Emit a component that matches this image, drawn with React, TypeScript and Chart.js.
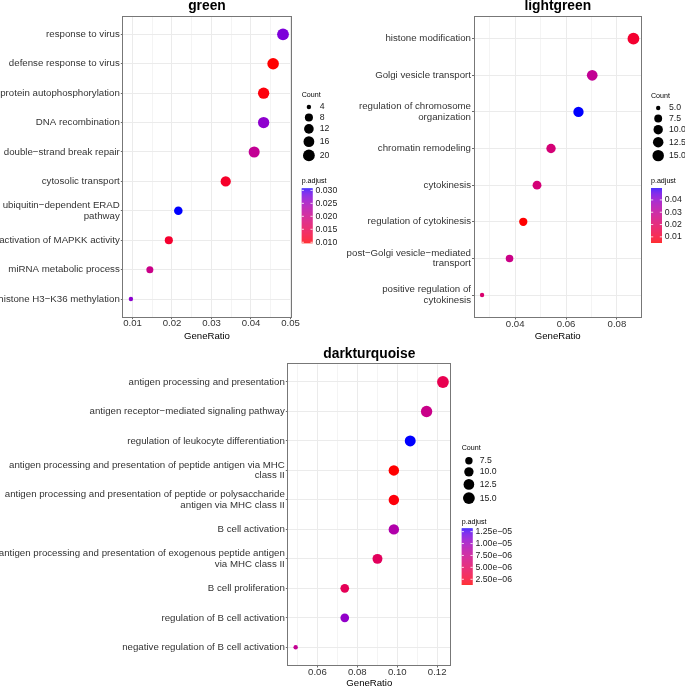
import React, { useEffect, useRef } from "react";
import { Chart, registerables } from "chart.js";

Chart.register(...registerables);

const FONT = "'Liberation Sans', Arial, Helvetica, sans-serif";

// ---------------- green ----------------
const greenTerms = [
  "response to virus",
  "defense response to virus",
  "protein autophosphorylation",
  "DNA recombination",
  "double\u2212strand break repair",
  "cytosolic transport",
  "ubiquitin\u2212dependent ERAD\npathway",
  "activation of MAPKK activity",
  "miRNA metabolic process",
  "histone H3\u2212K36 methylation",
];
const greenRatio = [0.0481, 0.0456, 0.0432, 0.0432, 0.0408, 0.0336, 0.0216, 0.0192, 0.0144, 0.0096];
const greenCount = [20, 19, 18, 18, 17, 14, 9, 8, 6, 4];
const greenPadj = [0.0276, 0.0096, 0.01, 0.0265, 0.0213, 0.0117, 0.0308, 0.0121, 0.0202, 0.0266];
const greenXMajor = [0.01, 0.02, 0.03, 0.04, 0.05];
const greenXMinor = [0.015, 0.025, 0.035, 0.045];
const greenCountBreaks = [4, 8, 12, 16, 20];
const greenCountLabels = ["4", "8", "12", "16", "20"];
const greenPadjBreaks = [0.01, 0.015, 0.02, 0.025, 0.03];
const greenPadjLabels = ["0.010", "0.015", "0.020", "0.025", "0.030"];

// ---------------- lightgreen ----------------
const lgTerms = [
  "histone modification",
  "Golgi vesicle transport",
  "regulation of chromosome\norganization",
  "chromatin remodeling",
  "cytokinesis",
  "regulation of cytokinesis",
  "post\u2212Golgi vesicle\u2212mediated\ntransport",
  "positive regulation of\ncytokinesis",
];
const lgRatio = [0.0865, 0.0703, 0.0649, 0.0541, 0.0486, 0.0432, 0.0378, 0.027];
const lgCount = [16, 13, 12, 10, 9, 8, 7, 5];
const lgPadj = [0.0104, 0.0296, 0.0497, 0.0238, 0.024, 0.005, 0.027, 0.022];
const lgXMajor = [0.04, 0.06, 0.08];
const lgXMinor = [0.03, 0.05, 0.07];
const lgCountBreaks = [5, 7.5, 10, 12.5, 15];
const lgCountLabels = ["5.0", "7.5", "10.0", "12.5", "15.0"];
const lgPadjBreaks = [0.01, 0.02, 0.03, 0.04];
const lgPadjLabels = ["0.01", "0.02", "0.03", "0.04"];

// ---------------- darkturquoise ----------------
const dtTerms = [
  "antigen processing and presentation",
  "antigen receptor\u2212mediated signaling pathway",
  "regulation of leukocyte differentiation",
  "antigen processing and presentation of peptide antigen via MHC\nclass II",
  "antigen processing and presentation of peptide or polysaccharide\nantigen via MHC class II",
  "B cell activation",
  "antigen processing and presentation of exogenous peptide antigen\nvia MHC class II",
  "B cell proliferation",
  "regulation of B cell activation",
  "negative regulation of B cell activation",
];
const dtRatio = [0.1229, 0.1147, 0.1065, 0.0983, 0.0983, 0.0983, 0.0901, 0.0737, 0.0737, 0.0491];
const dtCount = [15, 14, 13, 12, 12, 12, 11, 9, 9, 6];
const dtPadj = [4.3e-6, 7.3e-6, 1.32e-5, 1.3e-6, 1.5e-6, 9.0e-6, 4.9e-6, 4.6e-6, 1.06e-5, 7.8e-6];
const dtXMajor = [0.06, 0.08, 0.1, 0.12];
const dtXMinor = [0.05, 0.07, 0.09, 0.11];
const dtCountBreaks = [7.5, 10, 12.5, 15];
const dtCountLabels = ["7.5", "10.0", "12.5", "15.0"];
const dtPadjBreaks = [2.5e-6, 5e-6, 7.5e-6, 1e-5, 1.25e-5];
const dtPadjLabels = ["2.50e\u221206", "5.00e\u221206", "7.50e\u221206", "1.00e\u221205", "1.25e\u221205"];

// ---------------- colour helpers (Lab interpolation, red -> blue) ----------------
function srgbToLin(c: number) {
  c /= 255;
  return c <= 0.04045 ? c / 12.92 : Math.pow((c + 0.055) / 1.055, 2.4);
}
function linToSrgb(c: number) {
  const v = c <= 0.0031308 ? 12.92 * c : 1.055 * Math.pow(c, 1 / 2.4) - 0.055;
  return Math.round(Math.max(0, Math.min(1, v)) * 255);
}
const XN = 0.95047, YN = 1, ZN = 1.08883;
function labF(t: number) {
  return t > 0.008856 ? Math.cbrt(t) : 7.787 * t + 16 / 116;
}
function labFinv(t: number) {
  const t3 = t * t * t;
  return t3 > 0.008856 ? t3 : (t - 16 / 116) / 7.787;
}
function toLab(rgb: number[]) {
  const r = srgbToLin(rgb[0]), g = srgbToLin(rgb[1]), b = srgbToLin(rgb[2]);
  const X = (0.4124 * r + 0.3576 * g + 0.1805 * b) / XN;
  const Y = (0.2126 * r + 0.7152 * g + 0.0722 * b) / YN;
  const Z = (0.0193 * r + 0.1192 * g + 0.9505 * b) / ZN;
  const fx = labF(X), fy = labF(Y), fz = labF(Z);
  return [116 * fy - 16, 500 * (fx - fy), 200 * (fy - fz)];
}
function fromLab(lab: number[]) {
  const fy = (lab[0] + 16) / 116;
  const fx = fy + lab[1] / 500;
  const fz = fy - lab[2] / 200;
  const X = labFinv(fx) * XN, Y = labFinv(fy) * YN, Z = labFinv(fz) * ZN;
  const r = 3.2406 * X - 1.5372 * Y - 0.4986 * Z;
  const g = -0.9689 * X + 1.8758 * Y + 0.0415 * Z;
  const b = 0.0557 * X - 0.204 * Y + 1.057 * Z;
  return `rgb(${linToSrgb(r)},${linToSrgb(g)},${linToSrgb(b)})`;
}
const LAB_LOW = toLab([255, 0, 0]);
const LAB_HIGH = toLab([0, 0, 255]);
function gradient(t: number) {
  const u = Math.max(0, Math.min(1, t));
  return fromLab([0, 1, 2].map((k) => LAB_LOW[k] + (LAB_HIGH[k] - LAB_LOW[k]) * u));
}

const R_MIN = 2.2;
const R_MAX = 5.9;

type Spec = {
  title: string;
  terms: string[];
  ratio: number[];
  count: number[];
  padj: number[];
  xMajor: number[];
  xMinor: number[];
  countBreaks: number[];
  countLabels: string[];
  padjBreaks: number[];
  padjLabels: string[];
  box: { left: number; top: number; width: number; height: number };
  plot: { left: number; right: number; top: number; bottom: number };
  titleY: number;
  xTitleFromBottom: number;
  legend: { left: number; countTitleY: number; firstKeyY: number; padjTitleY: number; barTop: number; barBottom: number };
};

const panels: Spec[] = [
  {
    title: "green",
    terms: greenTerms, ratio: greenRatio, count: greenCount, padj: greenPadj,
    xMajor: greenXMajor, xMinor: greenXMinor,
    countBreaks: greenCountBreaks, countLabels: greenCountLabels,
    padjBreaks: greenPadjBreaks, padjLabels: greenPadjLabels,
    box: { left: 0, top: 0, width: 340, height: 345 },
    plot: { left: 123.3, right: 290.6, top: 16.7, bottom: 316.7 },
    titleY: 10.3,
    xTitleFromBottom: 9,
    legend: { left: 301.7, countTitleY: 95, firstKeyY: 107, padjTitleY: 181, barTop: 188.3, barBottom: 243.3 },
  },
  {
    title: "lightgreen",
    terms: lgTerms, ratio: lgRatio, count: lgCount, padj: lgPadj,
    xMajor: lgXMajor, xMinor: lgXMinor,
    countBreaks: lgCountBreaks, countLabels: lgCountLabels,
    padjBreaks: lgPadjBreaks, padjLabels: lgPadjLabels,
    box: { left: 340, top: 0, width: 345, height: 345 },
    plot: { left: 134.5, right: 301, top: 16.7, bottom: 317 },
    titleY: 10.3,
    xTitleFromBottom: 9,
    legend: { left: 311, countTitleY: 96, firstKeyY: 108, padjTitleY: 181, barTop: 188, barBottom: 243 },
  },
  {
    title: "darkturquoise",
    terms: dtTerms, ratio: dtRatio, count: dtCount, padj: dtPadj,
    xMajor: dtXMajor, xMinor: dtXMinor,
    countBreaks: dtCountBreaks, countLabels: dtCountLabels,
    padjBreaks: dtPadjBreaks, padjLabels: dtPadjLabels,
    box: { left: 0, top: 345, width: 685, height: 350 },
    plot: { left: 288.3, right: 450.3, top: 19.3, bottom: 320 },
    titleY: 13,
    xTitleFromBottom: 11.7,
    legend: { left: 461.7, countTitleY: 103, firstKeyY: 115.7, padjTitleY: 176.7, barTop: 183.3, barBottom: 240 },
  },
];

function Panel({ spec }: { spec: Spec }) {
  const ref = useRef<HTMLCanvasElement | null>(null);

  useEffect(() => {
    const canvas = ref.current;
    if (!canvas) return;
    const n = spec.terms.length;
    const cmin = Math.min(...spec.count), cmax = Math.max(...spec.count);
    const pmin = Math.min(...spec.padj), pmax = Math.max(...spec.padj);
    const rmin = Math.min(...spec.ratio), rmax = Math.max(...spec.ratio);
    const xr = rmax - rmin;
    const xMin = rmin - 0.05 * xr, xMax = rmax + 0.05 * xr;
    const tol = 0.003 * xr;
    const radius = (c: number) => R_MIN + (R_MAX - R_MIN) * Math.sqrt(Math.max(0, (c - cmin) / (cmax - cmin)));
    const colorOf = (p: number) => gradient((p - pmin) / (pmax - pmin));
    const isMajor = (v: number) => spec.xMajor.some((m) => Math.abs(m - v) < 1e-9);
    const xTicks = [...spec.xMajor, ...spec.xMinor]
      .filter((v) => v >= xMin - tol && v <= xMax + tol)
      .sort((a, b) => a - b);

    const points = spec.ratio.map((x, i) => ({ x, y: n - i }));
    const radii = spec.count.map(radius);
    const colors = spec.padj.map(colorOf);

    const decor = {
      id: "decor" + spec.title,
      afterDatasetsDraw(chart: any) {
        const { ctx, chartArea } = chart;
        ctx.save();
        ctx.strokeStyle = "#777777";
        ctx.lineWidth = 1;
        const l = Math.round(chartArea.left) - 0.5;
        const t = Math.round(chartArea.top) - 0.5;
        const r = Math.round(chartArea.right) + 0.5;
        const b = Math.round(chartArea.bottom) + 0.5;
        ctx.strokeRect(l, t, r - l, b - t);
        ctx.restore();
      },
      afterDraw(chart: any) {
        const { ctx, chartArea } = chart;
        ctx.save();
        // panel title
        ctx.fillStyle = "#000";
        ctx.font = `bold 13.8px ${FONT}`;
        ctx.textAlign = "center";
        ctx.textBaseline = "alphabetic";
        ctx.fillText(spec.title, (chartArea.left + chartArea.right) / 2, spec.titleY);

        // size legend
        const L = spec.legend;
        ctx.textAlign = "left";
        ctx.textBaseline = "middle";
        ctx.font = `7.1px ${FONT}`;
        ctx.fillText("Count", L.left, L.countTitleY);
        let y = L.firstKeyY;
        let prevH = 0;
        spec.countBreaks.forEach((c, i) => {
          const rr = radius(c);
          const h = Math.max(10.5, 2 * rr + 2.5);
          if (i > 0) y += (prevH + h) / 2;
          prevH = h;
          ctx.beginPath();
          ctx.arc(L.left + 7.2, y, rr, 0, Math.PI * 2);
          ctx.fillStyle = "#000";
          ctx.fill();
          ctx.font = `8.7px ${FONT}`;
          ctx.fillStyle = "#1a1a1a";
          ctx.fillText(spec.countLabels[i], L.left + 18, y);
        });

        // colour bar
        ctx.fillStyle = "#000";
        ctx.font = `7.1px ${FONT}`;
        ctx.fillText("p.adjust", L.left, L.padjTitleY);
        const bw = 11;
        const top = L.barTop, bot = L.barBottom;
        for (let yy = top; yy < bot; yy += 0.5) {
          const tt = (bot - (yy + 0.25)) / (bot - top);
          ctx.fillStyle = gradient(tt);
          ctx.fillRect(L.left, yy, bw, Math.min(0.6, bot - yy));
        }
        ctx.font = `8.7px ${FONT}`;
        spec.padjBreaks.forEach((v, i) => {
          const py = bot - ((v - pmin) / (pmax - pmin)) * (bot - top);
          ctx.strokeStyle = "#ffffff";
          ctx.lineWidth = 0.8;
          ctx.beginPath();
          ctx.moveTo(L.left, py);
          ctx.lineTo(L.left + 2.2, py);
          ctx.moveTo(L.left + bw - 2.2, py);
          ctx.lineTo(L.left + bw, py);
          ctx.stroke();
          ctx.fillStyle = "#1a1a1a";
          ctx.fillText(spec.padjLabels[i], L.left + 13.8, py);
        });
        ctx.restore();
      },
    };

    const tickFont = { family: FONT, size: 9.6, lineHeight: 1.2 };

    const chart = new Chart(canvas, {
      type: "scatter",
      data: {
        datasets: [
          {
            data: points,
            pointRadius: radii,
            pointHoverRadius: radii,
            pointBackgroundColor: colors,
            pointBorderColor: colors,
            pointBorderWidth: 0,
            clip: false,
          } as any,
        ],
      },
      options: {
        animation: false,
        responsive: false,
        events: [],
        layout: {
          padding: { left: 0, top: spec.plot.top, right: spec.box.width - spec.plot.right, bottom: 0 },
        },
        plugins: {
          legend: { display: false },
          tooltip: { enabled: false },
          title: { display: false },
        },
        scales: {
          x: {
            type: "linear",
            position: "bottom",
            min: xMin,
            max: xMax,
            afterBuildTicks: (s: any) => {
              s.ticks = xTicks.map((v) => ({ value: v }));
            },
            afterFit: (s: any) => {
              s.height = spec.box.height - spec.plot.bottom;
            },
            grid: {
              color: (c: any) => (c.tick && isMajor(c.tick.value) ? "#EBEBEB" : "#F4F4F4"),
              lineWidth: 1,
              tickLength: 2.5,
              tickColor: (c: any) => (c.tick && isMajor(c.tick.value) ? "#6a6a6a" : "rgba(0,0,0,0)"),
            },
            border: { display: false },
            ticks: {
              autoSkip: false,
              maxRotation: 0,
              minRotation: 0,
              padding: -1.2,
              color: "#333333",
              font: tickFont,
              callback: (v: any) => (isMajor(Number(v)) ? Number(v).toFixed(2) : ""),
            },
            title: {
              display: true,
              text: "GeneRatio",
              color: "#000",
              font: { family: FONT, size: 9.6, lineHeight: 1.2 },
              padding: { top: 0, bottom: spec.xTitleFromBottom - 5.76 },
            },
          },
          y: {
            type: "linear",
            position: "left",
            min: 0.4,
            max: n + 0.6,
            afterBuildTicks: (s: any) => {
              s.ticks = spec.terms.map((_, i) => ({ value: i + 1 }));
            },
            afterFit: (s: any) => {
              s.width = spec.plot.left;
            },
            grid: {
              color: "#EBEBEB",
              lineWidth: 1,
              tickLength: 2.5,
              tickColor: "#6a6a6a",
            },
            border: { display: false },
            ticks: {
              autoSkip: false,
              padding: 1,
              color: "#333333",
              font: { family: FONT, size: 9.7, lineHeight: 1.1 },
              callback: (v: any) => {
                const idx = n - Math.round(Number(v));
                const term = spec.terms[idx];
                return term ? term.split("\n") : "";
              },
            },
          },
        },
      } as any,
      plugins: [decor],
    });

    return () => {
      chart.destroy();
    };
  }, [spec]);

  return (
    <canvas
      ref={ref}
      width={spec.box.width}
      height={spec.box.height}
      style={{
        position: "absolute",
        left: spec.box.left,
        top: spec.box.top,
        width: spec.box.width,
        height: spec.box.height,
      }}
    />
  );
}

export default function App() {
  return (
    <div
      style={{
        position: "fixed",
        left: 0,
        top: 0,
        width: 685,
        height: 687,
        overflow: "hidden",
        background: "#ffffff",
      }}
    >
      {panels.map((p) => (
        <Panel key={p.title} spec={p} />
      ))}
    </div>
  );
}
